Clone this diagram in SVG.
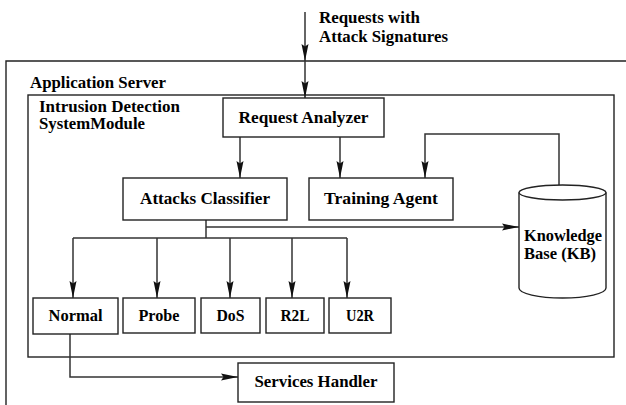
<svg xmlns="http://www.w3.org/2000/svg" width="626" height="405" viewBox="0 0 626 405">
  <defs>
    <marker id="arrow" markerUnits="userSpaceOnUse" markerWidth="17" markerHeight="8" refX="17" refY="4" orient="auto">
      <path d="M0,0.5 L17,4 L0,7.5 L2.5,4 Z" fill="#111"/>
    </marker>
  </defs>
  <style>
    .box { fill: #fff; stroke: #222; stroke-width: 1.4; }
    .frame { fill: none; stroke: #222; stroke-width: 1.4; }
    .line { fill: none; stroke: #333; stroke-width: 1.5; }
    .arr { marker-end: url(#arrow); }
    text { font-family: "Liberation Serif", "Times New Roman", serif; font-weight: bold; font-size: 16px; fill: #000; }
    .c { text-anchor: middle; }
  </style>
  <rect width="626" height="405" fill="#fff"/>

  <g id="application-server">
    <path class="frame" d="M627,61 H6 V406"/>
    <text x="30" y="88" textLength="136" lengthAdjust="spacingAndGlyphs">Application Server</text>
  </g>

  <g id="ids-module">
    <rect class="frame" x="28" y="95" width="586" height="262"/>
    <text x="39" y="112" textLength="141" lengthAdjust="spacingAndGlyphs">Intrusion Detection</text>
    <text x="39" y="129" textLength="106" lengthAdjust="spacingAndGlyphs">SystemModule</text>
  </g>

  <g id="input-label">
    <text x="319" y="23" textLength="101" lengthAdjust="spacingAndGlyphs">Requests with</text>
    <text x="319" y="42" textLength="129" lengthAdjust="spacingAndGlyphs">Attack Signatures</text>
  </g>

  <g id="connectors">
    <line class="line arr" x1="305" y1="12" x2="305" y2="61"/>
    <line class="line arr" x1="305" y1="61" x2="305" y2="98"/>
    <line class="line arr" x1="240" y1="137" x2="240" y2="178"/>
    <line class="line arr" x1="340" y1="137" x2="340" y2="178"/>
    <path class="line arr" d="M559,185 V134 H425 V178"/>
    <line class="line" x1="206" y1="220" x2="206" y2="238"/>
    <line class="line arr" x1="206" y1="227" x2="519" y2="227"/>
    <line class="line" x1="73" y1="238" x2="347" y2="238"/>
    <line class="line arr" x1="73" y1="238" x2="73" y2="298"/>
    <line class="line arr" x1="157" y1="238" x2="157" y2="298"/>
    <line class="line arr" x1="230" y1="238" x2="230" y2="298"/>
    <line class="line arr" x1="292" y1="238" x2="292" y2="298"/>
    <line class="line arr" x1="347" y1="238" x2="347" y2="298"/>
    <path class="line arr" d="M70,334 V377 H238"/>
  </g>

  <g id="request-analyzer">
    <rect class="box" x="223" y="98" width="161" height="39"/>
    <text class="c" x="303.5" y="123" textLength="130" lengthAdjust="spacingAndGlyphs">Request Analyzer</text>
  </g>

  <g id="attacks-classifier">
    <rect class="box" x="123" y="178" width="164" height="42"/>
    <text class="c" x="205" y="204" textLength="130" lengthAdjust="spacingAndGlyphs">Attacks Classifier</text>
  </g>

  <g id="training-agent">
    <rect class="box" x="309" y="178" width="144" height="42"/>
    <text class="c" x="381" y="204" textLength="114" lengthAdjust="spacingAndGlyphs">Training Agent</text>
  </g>

  <g id="knowledge-base">
    <path class="box" d="M519,192.5 V288 A43.5,10 0 0 0 606,288 V192.5"/>
    <ellipse class="box" cx="562.5" cy="192.5" rx="43.5" ry="7.5"/>
    <text x="524" y="241" textLength="78" lengthAdjust="spacingAndGlyphs">Knowledge</text>
    <text x="524" y="259" textLength="72" lengthAdjust="spacingAndGlyphs">Base (KB)</text>
  </g>

  <g id="normal">
    <rect class="box" x="33" y="298" width="85" height="36"/>
    <text class="c" x="75.5" y="321" textLength="54" lengthAdjust="spacingAndGlyphs">Normal</text>
  </g>
  <g id="probe">
    <rect class="box" x="123" y="298" width="72" height="35"/>
    <text class="c" x="159" y="321" textLength="41" lengthAdjust="spacingAndGlyphs">Probe</text>
  </g>
  <g id="dos">
    <rect class="box" x="201" y="298" width="59" height="35"/>
    <text class="c" x="230.5" y="321" textLength="28" lengthAdjust="spacingAndGlyphs">DoS</text>
  </g>
  <g id="r2l">
    <rect class="box" x="266" y="298" width="58" height="35"/>
    <text class="c" x="295" y="321" textLength="29" lengthAdjust="spacingAndGlyphs">R2L</text>
  </g>
  <g id="u2r">
    <rect class="box" x="329" y="298" width="62" height="35"/>
    <text class="c" x="360" y="321" textLength="28" lengthAdjust="spacingAndGlyphs">U2R</text>
  </g>

  <g id="services-handler">
    <rect class="box" x="238" y="363" width="156" height="39"/>
    <text class="c" x="316" y="387" textLength="123" lengthAdjust="spacingAndGlyphs">Services Handler</text>
  </g>
</svg>
